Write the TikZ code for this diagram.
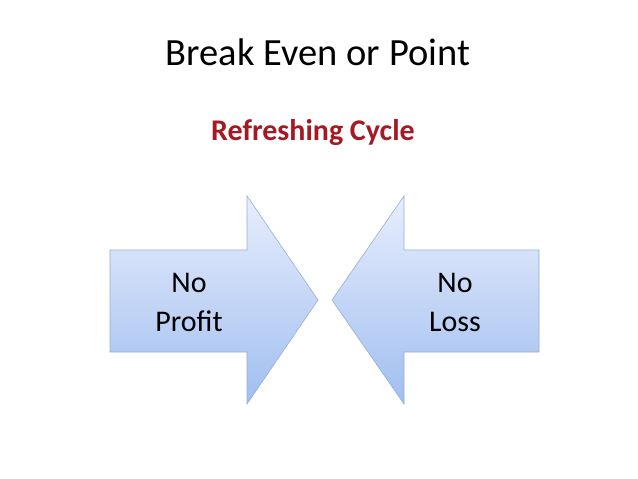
\documentclass[tikz,border=0pt]{standalone}
\usepackage{fontspec}
\setmainfont{Carlito}
\begin{document}
\begin{tikzpicture}[x=1pt,y=-1pt,
  arr/.style={draw={rgb,255:red,150;green,175;blue,215},line width=0.6pt,top color={rgb,255:red,232;green,238;blue,252},bottom color={rgb,255:red,160;green,190;blue,240}},
  lbl/.style={font=\fontsize{30}{39}\selectfont,align=center}]
\useasboundingbox[fill=white] (0,0) rectangle (638,479);
\node (title) at (318,52) {\fontsize{38.5}{44}\selectfont Break Even or Point};
\node (sub) at (313,133) {\fontsize{30}{34}\selectfont\bfseries\color[RGB]{165,25,35}Refreshing Cycle};
\path[arr] (110,250) -- (247,250) -- (247,196) -- (318,300) -- (247,404) -- (247,352) -- (110,352) -- cycle;
\path[arr] (539,250) -- (404,250) -- (404,196) -- (332,300) -- (404,404) -- (404,352) -- (539,352) -- cycle;
\node[lbl] (p) at (189,302) {No\\Profit};
\node[lbl] (l) at (455,302) {No\\Loss};
\end{tikzpicture}
\end{document}
